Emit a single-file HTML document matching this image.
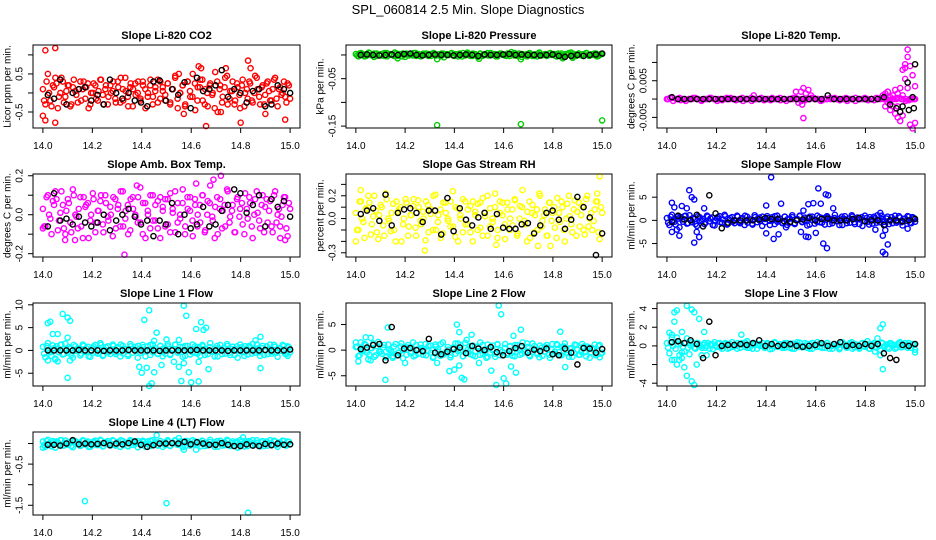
<!DOCTYPE html>
<html><head><meta charset="utf-8"><style>
body{margin:0;background:#fff}
svg{display:block;font-family:"Liberation Sans",sans-serif}
</style></head><body>
<svg id="c" width="936" height="540" xmlns="http://www.w3.org/2000/svg">
<rect width="936" height="540" fill="#fff"/>
<text x="468" y="14" text-anchor="middle" font-size="13">SPL_060814  2.5 Min. Slope Diagnostics</text>
</svg>
<script>
const xTicks=[14.0,14.2,14.4,14.6,14.8,15.0];
const xTickLabels=["14.0","14.2","14.4","14.6","14.8","15.0"];
const titles=["Slope Li-820 CO2","Slope Li-820 Pressure","Slope Li-820 Temp.","Slope Amb. Box Temp.","Slope Gas Stream RH","Slope Sample Flow","Slope Line 1 Flow","Slope Line 2 Flow","Slope Line 3 Flow","Slope Line 4 (LT) Flow"];
const yTitles=["Licor ppm per min.","kPa per min.","degrees C per min.","degrees C per min.","percent per min.","ml/min per min.","ml/min per min.","ml/min per min.","ml/min per min.","ml/min per min."];
const colors=["#ff0000","#00cc00","#ff00ff","#ff00ff","#ffff00","#0000ff","#00ffff","#00ffff","#00ffff","#00ffff"];
const yMins=[-0.92,-0.154,-0.0079,-0.217,-0.337,-7.9,-7.8,-7.0,-4.3,-1.736];
const yMaxs=[1.26,0.021,0.01475,0.209,0.391,10.0,10.4,9.2,4.6,0.28];
const yTicks=[[-0.5,0,0.5,1.0],[-0.15,-0.1,-0.05,0],[-0.005,0,0.005,0.01],[-0.2,-0.1,0,0.1,0.2],[-0.3,-0.2,-0.1,0,0.1,0.2,0.3],[-5,0,5],[-5,0,5,10],[-5,0,5],[-4,-2,0,2,4],[-1.5,-1.0,-0.5,0]];
const yTickLabels=[["-0.5","","0.5",""],["-0.15","","-0.05",""],["-0.005","","0.005",""],["-0.2","","0.0","","0.2"],["-0.3","","","0.0","","0.2",""],["-5","0","5"],["-5","0","5","10"],["-5","0","5"],["-4","","0","2","4"],["-1.5","","-0.5",""]];

const band1=[0.1,-0.3,0.5,-0.2,0.2,0.4,-0.4,0.0,0.3,-0.1,0.2,-0.35,0.15,0.05,-0.25,0.3,0.1,-0.15,0.25,-0.3,0.0,0.2,-0.2,0.35,-0.05,0.1,-0.3,0.2,0.05,-0.15,0.3,-0.25,0.1,0.4,-0.1,0.15,-0.35,0.25,0.0,-0.2,0.3,0.1,-0.1,0.2,-0.3,0.05,0.35,-0.15,0.15,-0.05,0.25,-0.25,0.1,0.45,-0.4,0.0,0.2,-0.3,0.3,-0.1,0.5,-0.45,0.15,0.35,-0.2,0.1,-0.35,0.25,0.0,0.55,-0.5,0.2,-0.1,0.4,-0.3,0.05,0.3,-0.2,0.15,-0.4,0.35,0.0,-0.15,0.25,-0.25,0.45,0.1,-0.3,0.2,-0.05,0.3,-0.2,0.1,0.4,-0.35,0.15,0.0,-0.1,0.25,-0.15];
const band2=[0.002,-0.003,0.004,0.001,-0.002,0.005,0.0,-0.004,0.003,0.001,-0.001,0.004,-0.003,0.002,0.0,0.005,-0.002,0.001,0.003,-0.004,0.002,0.0,-0.001,0.004,0.001,-0.003,0.003,0.0,0.002,-0.002,0.004,-0.001,0.001,0.003,-0.005,0.002,0.0,0.004,-0.002,0.001,0.003,-0.003,0.0,0.005,0.001,-0.002,0.002,-0.004,0.003,0.0,0.001,-0.001,0.004,0.002,-0.003,0.001,0.003,0.0,-0.002,0.002,0.006,-0.001,0.001,0.003,-0.004,0.0,0.002,0.004,-0.002,0.001,-0.003,0.003,0.0,0.002,-0.001,0.004,0.001,-0.002,0.003,0.0,-0.004,0.002,0.001,0.005,-0.003,0.0,0.003,-0.001,0.002,0.004,-0.002,0.001,0.003,-0.003,0.0,0.002];
const band3=[0,0.0003,-0.0005,0,0.0003,0,-0.0005,0,0,0.0003,0,-0.0003,0,0,0.0003,0,-0.0005,0,0,0.0003,0,0,-0.0003,0,0.0003,0,0,-0.0005,0,0,0.0003,0,0,-0.0003,0,0,0.0003,0,-0.0005,0,0,0.0003,0,0,-0.0003,0,0.0003,0,0,-0.0005,0,0,0.0003,0,0,-0.0003,0,0.0003,0,0,-0.0005,0,0,0.0003,0,0,-0.0003,0,0.0003,0,0,-0.0005,0,0,0.0003,0,0,-0.0003,0,0];
const band4=[0.03,-0.06,0.1,-0.02,0.07,0.12,-0.08,0.01,0.05,-0.1,0.08,-0.04,0.13,0.0,-0.07,0.09,-0.12,0.04,0.06,-0.03,0.11,-0.09,0.02,0.07,-0.05,0.1,-0.01,0.04,-0.11,0.08,0.03,-0.06,0.12,-0.02,0.05,-0.08,0.09,0.0,-0.04,0.14,-0.1,0.06,0.02,-0.07,0.1,-0.03,0.07,-0.12,0.04,0.08,-0.05,0.11,0.01,-0.09,0.06,-0.02,0.13,-0.06,0.03,0.09,-0.11,0.05,0.0,-0.04,0.1,-0.08,0.07,0.15,-0.03,0.04,-0.1,0.08,0.02,-0.06,0.12,-0.01,0.05,-0.09,0.09,0.03,-0.05,0.11,-0.02,0.06,-0.12,0.08,0.01,-0.07,0.1,0.04,-0.04,0.07,-0.09,0.12,0.0,-0.06,0.05,0.09,-0.11,0.03];
const band5=[0.05,-0.1,0.15,-0.03,0.09,0.2,-0.14,0.02,0.07,-0.18,0.12,-0.06,0.22,0.0,-0.11,0.13,-0.2,0.06,0.1,-0.05,0.17,-0.15,0.03,0.11,-0.08,0.16,-0.02,0.06,-0.19,0.12,0.04,-0.1,0.21,-0.03,0.08,-0.13,0.14,0.0,-0.07,0.24,-0.16,0.09,0.03,-0.12,0.15,-0.05,0.11,-0.2,0.06,0.13,-0.08,0.18,0.02,-0.15,0.09,-0.03,0.22,-0.1,0.05,0.14,-0.18,0.08,0.0,-0.06,0.16,-0.13,0.11,0.25,-0.05,0.06,-0.17,0.12,0.03,-0.1,0.2,-0.02,0.08,-0.15,0.14,0.05,-0.08,0.18,-0.03,0.1,-0.2,0.13,0.02,-0.12,0.16,0.06,-0.07,0.11,-0.14,0.2,0.0,-0.1,0.08,0.15,-0.18,0.05];
const band6=[0.5,-1.0,1.2,-0.3,0.8,-1.5,0.2,0.9,-0.7,1.1,-0.4,0.3,-1.2,0.7,0.0,-0.8,1.0,-0.2,0.6,-1.1,0.4,0.9,-0.5,1.2,-0.9,0.1,0.7,-0.6,1.0,-0.3,0.5,-1.0,0.8,0.2,-0.7,1.1,-0.4,0.6,-1.2,0.3,0.9,-0.1,0.7,-0.8,1.0,0.0,-0.5,0.8,-1.0,0.4,1.1,-0.6,0.2,0.9,-0.3,0.6,-1.1,0.8,0.1,-0.7,1.0,-0.4,0.5,-0.9,0.7,0.3,-0.6,1.2,-0.2,0.4,-1.0,0.9,0.0,-0.5,0.8,-0.8,0.6,0.2,-1.2,1.0,-0.3,0.7,-0.7,0.5,1.1,-0.4,0.3,-0.9,0.8,0.0,-0.6,1.0,-0.2,0.6,-1.1,0.4,0.9,-0.5,0.7,-0.3];
const band7=[0.8,-1.5,1.6,-0.4,1.1,-2.0,0.3,1.2,-0.9,1.5,-0.5,0.4,-1.6,0.9,0.0,-1.1,1.3,-0.3,0.8,-1.4,0.5,1.2,-0.7,1.6,-1.2,0.1,0.9,-0.8,1.3,-0.4,0.7,-1.3,1.0,0.3,-0.9,1.4,-0.5,0.8,-1.6,0.4,1.2,-0.1,0.9,-1.0,1.3,0.0,-0.7,1.0,-1.3,0.5,1.4,-0.8,0.3,1.2,-0.4,0.8,-1.4,1.0,0.1,-0.9,1.3,-0.5,0.7,-1.2,0.9,0.4,-0.8,1.6,-0.3,0.5,-1.3,1.2,0.0,-0.7,1.0,-1.0,0.8,0.3,-1.6,1.3,-0.4,0.9,-0.9,0.7,1.4,-0.5,0.4,-1.2,1.0,0.0,-0.8,1.3,-0.3,0.8,-1.4,0.5,1.2,-0.7,0.9,-0.4];
const band8=[0.6,-1.2,1.5,-0.2,1.0,-1.8,0.4,1.3,-1.0,1.6,-0.3,0.5,-1.4,1.1,-0.1,-1.2,1.2,-0.5,0.7,-1.6,0.6,1.0,-0.6,1.5,-1.0,0.2,1.1,-0.9,1.2,-0.2,0.9,-1.5,1.1,0.2,-1.1,1.5,-0.6,0.6,-1.4,0.3,1.3,-0.2,1.0,-1.2,1.4,0.1,-0.8,0.9,-1.2,0.6,1.5,-0.7,0.2,1.1,-0.5,0.9,-1.3,1.1,0.0,-1.0,1.2,-0.6,0.8,-1.1,1.0,0.3,-0.9,1.5,-0.4,0.6,-1.2,1.3,0.1,-0.8,0.9,-1.1,0.7,0.4,-1.5,1.2,-0.3,1.0,-1.0,0.6,1.3,-0.6,0.3,-1.3,1.1,0.1,-0.9,1.2,-0.4,0.7,-1.5,0.4,1.1,-0.8,1.0,-0.5];
const band9=[0.3,-0.8,1.2,-1.5,0.9,-1.0,1.5,-0.6,0.8,-0.9,0.4,-0.2,0.3,0.1,-0.2,0.3,0.0,-0.3,0.2,0.4,-0.1,0.3,-0.3,0.2,0.1,-0.2,0.4,0.0,-0.3,0.2,0.3,-0.1,0.5,-0.2,0.1,0.3,-0.3,0.2,0.0,-0.2,0.3,0.1,-0.3,0.4,-0.1,0.2,0.0,-0.2,0.3,0.1,-0.3,0.2,0.4,-0.1,0.0,0.3,-0.2,0.2,-0.3,0.1,0.4,-0.1,0.2,-0.2,0.3,0.0,-0.3,0.2,0.1,-0.2,0.4,0.0,-0.1,0.3,-0.3,0.2,0.1,-0.2,0.3,-0.1,0.5,-0.3,0.2,-0.6,0.8,-0.4,0.3,0.0,-0.2,0.3,0.1,-0.3,0.2,0.4,-0.1,0.3,-0.2,0.1,0.2,-0.4];
const band10=[0.05,-0.08,0.09,-0.02,0.06,-0.1,0.03,0.08,-0.05,0.07,-0.03,0.02,-0.09,0.06,0.0,-0.06,0.08,-0.02,0.05,-0.08,0.03,0.07,-0.04,0.09,-0.07,0.01,0.06,-0.05,0.08,-0.02,0.04,-0.08,0.06,0.02,-0.06,0.08,-0.03,0.05,-0.09,0.02,0.07,-0.01,0.05,-0.06,0.08,0.0,-0.04,0.06,-0.08,0.03,0.08,-0.05,0.01,0.07,-0.02,0.05,-0.09,0.06,0.01,-0.05,0.08,-0.03,0.04,-0.07,0.06,0.02,-0.05,0.09,-0.02,0.03,-0.08,0.07,0.0,-0.04,0.06,-0.06,0.05,0.02,-0.1,0.08,-0.02,0.06,-0.06,0.04,0.08,-0.03,0.02,-0.07,0.06,0.0,-0.05,0.08,-0.02,0.05,-0.08,0.03,0.07,-0.04,0.05,-0.02];

const bandB1=[-0.2,0.3,0.0,-0.35,0.15,0.25,-0.1,0.4,-0.25,0.05,0.2,-0.3,0.35,-0.05,0.1,-0.2,0.3,0.15,-0.4,0.0,0.25,-0.15,0.05,0.35,-0.3,0.2,-0.1,0.0,0.3,-0.25,0.15,0.4,-0.2,0.05,-0.35,0.25,0.1,-0.05,0.3,-0.15,0.2,-0.4,0.0,0.35,-0.1,0.15,-0.25,0.3,0.05,-0.2,0.25,-0.3,0.1,0.4,-0.15,0.0,0.2,-0.35,0.3,0.05,-0.1,0.25,-0.2,0.15,0.35,-0.3,0.0,0.2,-0.05,-0.4,0.3,0.1,-0.25,0.15,0.45,-0.15,0.05,-0.3,0.25,-0.05,0.2,-0.35,0.1,0.3,-0.2,0.0,0.4,-0.1,0.15,-0.3,0.25,0.05,-0.2,0.35,-0.15,0.1,-0.05,0.3,-0.25,0.2];
const bandB2=[-0.001,0.003,0.0,-0.003,0.002,0.004,-0.001,0.003,-0.002,0.001,0.002,-0.002,0.004,0.0,0.001,-0.002,0.003,0.002,-0.003,0.0,0.003,-0.001,0.001,0.004,-0.002,0.002,-0.001,0.0,0.003,-0.002,0.002,0.004,-0.001,0.001,-0.003,0.003,0.001,0.0,0.003,-0.001,0.002,-0.003,0.0,0.004,-0.001,0.002,-0.002,0.003,0.001,-0.001,0.003,-0.002,0.001,0.004,-0.001,0.0,0.002,-0.003,0.003,0.001,-0.001,0.003,-0.002,0.002,0.004,-0.002,0.0,0.002,0.0,-0.003,0.003,0.001,-0.002,0.002,0.005,-0.001,0.001,-0.002,0.003,0.0,0.002,-0.003,0.001,0.003,-0.001,0.0,0.004,-0.001,0.002,-0.002,0.003,0.001,-0.002,0.004,-0.001,0.001,0.0,0.003,-0.002,0.002];
const bandB3=[0,0.0003,0,-0.0003,0,0,0.0003,0,-0.0005,0,0.0003,0,0,-0.0003,0,0.0003,0,0,-0.0005,0,0.0003,0,0,-0.0003,0,0.0003,0,-0.0003,0,0,0.0003,0,-0.0005,0,0,0.0003,0,-0.0003,0,0,0.0003,0,0,-0.0005,0,0.0003,0,0,-0.0003,0,0.0003,0,0,-0.0003,0,0.0003,0,-0.0005,0,0];
const bandB4=[-0.06,0.09,0.0,-0.1,0.05,0.08,-0.03,0.12,-0.07,0.02,0.06,-0.09,0.1,-0.01,0.03,-0.06,0.09,0.05,-0.12,0.0,0.08,-0.04,0.02,0.1,-0.09,0.06,-0.03,0.0,0.09,-0.07,0.05,0.12,-0.06,0.02,-0.1,0.08,0.03,-0.01,0.09,-0.04,0.06,-0.12,0.0,0.1,-0.03,0.05,-0.07,0.09,0.02,-0.06,0.08,-0.09,0.03,0.12,-0.04,0.0,0.06,-0.1,0.09,0.02,-0.03,0.08,-0.06,0.05,0.1,-0.09,0.0,0.06,-0.01,-0.12,0.09,0.03,-0.07,0.05,0.13,-0.04,0.02,-0.09,0.08,-0.01,0.06,-0.1,0.03,0.09,-0.06,0.0,0.12,-0.03,0.05,-0.09,0.08,0.02,-0.06,0.1,-0.04,0.03,-0.01,0.09,-0.07,0.06];
const bandB5=[-0.1,0.15,0.0,-0.17,0.08,0.14,-0.05,0.2,-0.12,0.03,0.1,-0.15,0.17,-0.02,0.05,-0.1,0.15,0.08,-0.2,0.0,0.14,-0.07,0.03,0.17,-0.15,0.1,-0.05,0.0,0.15,-0.12,0.08,0.2,-0.1,0.03,-0.17,0.14,0.05,-0.02,0.15,-0.07,0.1,-0.2,0.0,0.17,-0.05,0.08,-0.12,0.15,0.03,-0.1,0.14,-0.15,0.05,0.2,-0.07,0.0,0.1,-0.17,0.15,0.03,-0.05,0.14,-0.1,0.08,0.17,-0.15,0.0,0.1,-0.02,-0.2,0.15,0.05,-0.12,0.08,0.22,-0.07,0.03,-0.15,0.14,-0.02,0.1,-0.17,0.05,0.15,-0.1,0.0,0.2,-0.05,0.08,-0.15,0.14,0.03,-0.1,0.17,-0.07,0.05,-0.02,0.15,-0.12,0.1];
const bandB6=[-0.5,0.8,0.0,-0.9,0.4,0.7,-0.3,1.0,-0.6,0.2,0.5,-0.8,0.9,-0.1,0.3,-0.5,0.8,0.4,-1.0,0.0,0.7,-0.4,0.2,0.9,-0.8,0.5,-0.3,0.0,0.8,-0.6,0.4,1.0,-0.5,0.2,-0.9,0.7,0.3,-0.1,0.8,-0.4,0.5,-1.0,0.0,0.9,-0.3,0.4,-0.6,0.8,0.2,-0.5,0.7,-0.8,0.3,1.0,-0.4,0.0,0.5,-0.9,0.8,0.2,-0.3,0.7,-0.5,0.4,0.9,-0.8,0.0,0.5,-0.1,-1.0,0.8,0.3,-0.6,0.4,1.1,-0.4,0.2,-0.8,0.7,-0.1,0.5,-0.9,0.3,0.8,-0.5,0.0,1.0,-0.3,0.4,-0.8,0.7,0.2,-0.5,0.9,-0.4,0.3,-0.1,0.8,-0.6,0.5];
const bandB7=[-0.7,1.0,0.0,-1.2,0.5,0.9,-0.4,1.3,-0.8,0.3,0.7,-1.0,1.2,-0.1,0.4,-0.7,1.0,0.5,-1.3,0.0,0.9,-0.5,0.3,1.2,-1.0,0.7,-0.4,0.0,1.0,-0.8,0.5,1.3,-0.7,0.3,-1.2,0.9,0.4,-0.1,1.0,-0.5,0.7,-1.3,0.0,1.2,-0.4,0.5,-0.8,1.0,0.3,-0.7,0.9,-1.0,0.4,1.3,-0.5,0.0,0.7,-1.2,1.0,0.3,-0.4,0.9,-0.7,0.5,1.2,-1.0,0.0,0.7,-0.1,-1.3,1.0,0.4,-0.8,0.5,1.4,-0.5,0.3,-1.0,0.9,-0.1,0.7,-1.2,0.4,1.0,-0.7,0.0,1.3,-0.4,0.5,-1.0,0.9,0.3,-0.7,1.2,-0.5,0.4,-0.1,1.0,-0.8,0.7];
const bandB8=[0.7,-1.0,0.0,1.2,-0.5,-0.9,0.4,-1.3,0.8,-0.3,-0.7,1.0,-1.2,0.1,-0.4,0.7,-1.0,-0.5,1.3,0.0,-0.9,0.5,-0.3,-1.2,1.0,-0.7,0.4,0.0,-1.0,0.8,-0.5,-1.3,0.7,-0.3,1.2,-0.9,-0.4,0.1,-1.0,0.5,-0.7,1.3,0.0,-1.2,0.4,-0.5,0.8,-1.0,-0.3,0.7,-0.9,1.0,-0.4,-1.3,0.5,0.0,-0.7,1.2,-1.0,-0.3,0.4,-0.9,0.7,-0.5,-1.2,1.0,0.0,-0.7,0.1,1.3,-1.0,-0.4,0.8,-0.5,-1.4,0.5,-0.3,1.0,-0.9,0.1,-0.7,1.2,-0.4,-1.0,0.7,0.0,-1.3,0.4,-0.5,1.0,-0.9,-0.3,0.7,-1.2,0.5,-0.4,0.1,-1.0,0.8,-0.7];
const bandB9=[-0.2,0.3,0.0,-0.3,0.15,0.25,-0.1,0.35,-0.2,0.05,0.2,-0.3,0.3,0.0,0.1,-0.2,0.3,0.15,-0.35,0.0,0.25,-0.15,0.05,0.3,-0.3,0.2,-0.1,0.0,0.3,-0.2,0.15,0.35,-0.2,0.05,-0.3,0.25,0.1,0.0,0.3,-0.15,0.2,-0.35,0.0,0.3,-0.1,0.15,-0.2,0.3,0.05,-0.2,0.25,-0.3,0.1,0.35,-0.15,0.0,0.2,-0.3,0.3,0.05,-0.1,0.25,-0.2,0.15,0.3,-0.3,0.0,0.2,0.0,-0.35,0.3,0.1,-0.2,0.15,0.4,-0.15,0.05,-0.3,0.25,0.0,0.2,-0.3,0.1,0.3,-0.2,0.0,0.35,-0.1,0.15,-0.3,0.25,0.05,-0.2,0.3,-0.15,0.1,0.0,0.3,-0.2,0.2];
const bandB10=[-0.04,0.06,0.0,-0.07,0.03,0.05,-0.02,0.08,-0.05,0.01,0.04,-0.06,0.07,-0.01,0.02,-0.04,0.06,0.03,-0.08,0.0,0.05,-0.03,0.01,0.07,-0.06,0.04,-0.02,0.0,0.06,-0.05,0.03,0.08,-0.04,0.01,-0.07,0.05,0.02,-0.01,0.06,-0.03,0.04,-0.08,0.0,0.07,-0.02,0.03,-0.05,0.06,0.01,-0.04,0.05,-0.06,0.02,0.08,-0.03,0.0,0.04,-0.07,0.06,0.01,-0.02,0.05,-0.04,0.03,0.07,-0.06,0.0,0.04,-0.01,-0.08,0.06,0.02,-0.05,0.03,0.09,-0.03,0.01,-0.06,0.05,-0.01,0.04,-0.07,0.02,0.06,-0.04,0.0,0.08,-0.02,0.03,-0.06,0.05,0.01,-0.04,0.07,-0.03,0.02,-0.01,0.06,-0.05,0.04];

const outX1=[14.01,14.05,14.0,14.01,14.05,14.66,14.63,14.83,14.84,14.74,14.9,14.98,14.8,14.55,14.57,14.72,14.64];
const outY1=[1.12,1.18,-0.6,-0.72,-0.78,-0.87,0.7,0.85,0.65,0.65,-0.55,-0.7,-0.78,0.5,-0.55,-0.5,0.65];
const outX2=[14.17,14.33,14.5,14.67,14.84,14.88,14.33,14.67,15.0];
const outY2=[-0.007,-0.009,-0.008,-0.009,-0.007,-0.006,-0.148,-0.146,-0.138];
const outX3=[14.52,14.53,14.54,14.55,14.55,14.56,14.57,14.58,14.35,14.545,14.87,14.88,14.88,14.89,14.89,14.9,14.9,14.91,14.91,14.92,14.92,14.93,14.93,14.94,14.94,14.95,14.95,14.96,14.96,14.97,14.97,14.98,14.98,14.99,14.99,15.0,15.0,14.96,14.97,14.985,14.93,14.95];
const outY3=[0.002,-0.001,0.002,0.003,-0.0052,0.0015,0.0025,0.001,0.001,-0.0015,0.001,-0.002,0.0015,-0.001,0.002,-0.003,0.0005,0.001,-0.002,0.0025,-0.004,0.0015,-0.005,0.003,-0.006,0.008,-0.0045,0.0095,0.0055,0.0135,0.003,0.009,-0.007,0.0065,-0.008,0.0035,-0.0065,0.0085,0.0115,0.0,-0.002,0.001];
const outX4=[14.33,14.72,14.69,14.62,14.0,14.09,14.13,14.96,14.98,14.38];
const outY4=[-0.205,0.2,0.18,0.16,-0.07,-0.13,-0.13,-0.12,-0.13,0.15];
const outX5=[14.0,14.28,14.74,14.79,14.99,14.57,14.02,14.98];
const outY5=[-0.2,-0.28,-0.24,-0.24,0.37,-0.23,0.25,0.22];
const outX6=[14.02,14.03,14.06,14.09,14.1,14.11,14.08,14.12,14.11,14.13,14.05,14.02,14.04,14.15,14.42,14.4,14.4,14.43,14.46,14.45,14.48,14.54,14.55,14.56,14.57,14.57,14.59,14.6,14.61,14.62,14.63,14.64,14.65,14.645,14.67,14.87,14.88,14.89,14.87,14.86,14.84,14.97,14.88];
const outY6=[3.8,2.8,3.1,6.5,5.0,4.5,2.6,-2.5,-4.8,-3.6,-3.3,-2.5,-2.0,2.6,9.3,3.2,-2.8,-4.0,3.6,-3.0,-1.5,-2.5,2.1,-3.5,-3.6,3.5,3.7,-2.7,6.9,3.6,-5.0,5.6,5.4,-6.0,2.6,-6.8,-7.3,-5.2,-3.3,1.6,-2.0,-1.8,-2.1];
const outX7=[14.02,14.03,14.02,14.04,14.05,14.06,14.06,14.08,14.1,14.11,14.1,14.11,14.1,14.41,14.43,14.39,14.4,14.42,14.43,14.44,14.45,14.45,14.46,14.48,14.5,14.53,14.55,14.55,14.56,14.57,14.57,14.58,14.59,14.6,14.62,14.63,14.64,14.65,14.66,14.67,14.63,14.86,14.88,14.88,14.99];
const outY7=[6.0,6.3,-2.2,3.6,-1.8,3.6,-2.4,8.0,7.2,6.5,-6.0,-2.2,2.8,6.7,8.8,-3.6,-4.9,-3.8,-7.8,-7.2,-4.8,2.1,3.9,-3.2,2.4,-2.5,2.3,-3.6,-6.7,-2.8,9.8,7.6,-4.8,-7.0,4.7,-6.8,6.2,4.5,5.0,-4.1,-2.5,2.2,3.0,-3.9,-1.2];
const outX8=[14.0,14.01,14.04,14.06,14.06,14.12,14.13,14.15,14.2,14.33,14.38,14.4,14.41,14.42,14.42,14.43,14.44,14.45,14.47,14.5,14.53,14.55,14.57,14.58,14.59,14.6,14.61,14.63,14.64,14.65,14.67,14.83,14.85,14.99];
const outY8=[1.5,-2.2,2.5,2.4,-2.0,-5.8,4.4,-1.5,-2.5,-2.5,-4.1,-3.8,5.0,3.5,-3.0,-5.4,-5.7,2.0,3.0,-2.5,-1.5,-4.0,-6.8,8.7,7.0,-5.5,-6.5,-3.2,2.8,-4.4,4.0,3.6,-3.3,-1.4];
const outX9=[14.01,14.02,14.03,14.04,14.03,14.02,14.04,14.05,14.06,14.06,14.07,14.08,14.08,14.1,14.1,14.11,14.11,14.13,14.12,14.14,14.15,14.16,14.3,14.86,14.87,14.87,14.86,15.0];
const outY9=[1.4,0.9,3.6,3.8,2.6,-1.5,-2.0,-1.5,-0.7,-1.3,-2.3,-3.2,4.3,3.9,-3.8,-4.2,3.6,2.9,-2.0,-1.0,1.5,-1.0,1.2,1.9,2.3,-2.5,-1.0,-0.7];
const outX10=[14.17,14.5,14.83,14.46,14.57,14.62,14.55,14.81,14.0];
const outY10=[-1.4,-1.45,-1.68,0.2,-0.15,-0.15,0.13,0.15,-0.1];

const blk1=[-0.05,-0.15,0.35,-0.3,0.0,0.1,0.15,-0.2,-0.05,-0.3,0.35,0.0,-0.15,0.0,-0.2,-0.25,-0.35,0.3,0.33,-0.2,0.1,-0.05,0.28,-0.4,0.4,0.05,0.1,0.2,0.6,-0.1,0.1,0.0,-0.25,0.05,0.1,-0.35,-0.3,0.2,0.1,0.0];
const blk2=[0,0.001,0,-0.001,0,0.001,0,0.002,0.003,0,-0.001,0,0.001,0,0,-0.001,0,0.001,0,-0.002,0.001,0,0,0.001,0.002,0,0.001,0,0,-0.001,0,0.001,-0.002,-0.004,-0.002,0,-0.002,0,0.001,0.003];
const blk3=[0.0005,0,0,0,0,0,0,0,0,0,0,0,0,0,0,0,0,0,0,0,0,0,0,0,0,0.001,0,0,0,0,0,0,0,0,0.0005,-0.0015,-0.0025,-0.002,-0.003,0.0095];
const blk4=[-0.06,0.11,-0.03,-0.02,-0.05,-0.01,-0.04,-0.06,-0.04,0.0,-0.08,-0.03,0.0,0.03,-0.01,-0.05,-0.03,-0.11,-0.03,-0.05,0.06,-0.1,0.0,-0.07,-0.05,0.04,-0.06,-0.05,0.02,0.05,0.13,0.11,0.01,0.05,0.1,-0.06,0.08,0.04,0.07,-0.01];
const blk5=[0.04,0.07,0.09,-0.02,0.21,-0.06,0.05,0.08,0.09,0.05,-0.03,0.07,0.07,-0.14,0.18,-0.11,0.09,-0.01,-0.06,0.01,0.05,-0.09,0.04,-0.08,-0.09,-0.09,-0.05,-0.04,-0.13,-0.06,0.05,0.07,-0.01,-0.09,-0.01,0.19,0.1,0.01,-0.32,-0.13];
const blk6=[-0.3,1.0,0.2,0.0,1.2,-1.3,5.4,1.5,-1.7,-0.5,0.0,0.0,0.0,0.0,0.2,0.5,0.3,0.3,-0.2,-0.3,0.0,0.2,0.5,0.0,0.3,0.4,0.0,0.0,0.0,0.3,0.5,-0.2,0.0,0.0,-1.0,0.0,0.0,-0.2,0.0,0.3];
const blk7=[0,0,0,0,0,0.1,0,0,0,-0.1,0,0,0,0.1,0,0,0,0,-0.1,0,0,0,0,0,0.1,0,0,0,0,-0.1,0,0,0,0,0,0.1,0,0,0,0.2];
const blk8=[0.2,0.5,1.0,1.2,-2.0,4.5,-1.0,0.3,0.4,0.0,-0.2,2.2,-0.5,-0.8,-0.3,0.2,0.5,-0.6,0.8,0.3,0.0,0.6,-0.4,-1.0,-0.2,0.4,0.8,-0.5,0.1,-0.2,0.3,-0.8,-1.0,0.3,-0.5,-2.8,0.4,0.3,-0.5,0.2];
const blk9=[0.4,0.5,0.3,0.6,0.2,-1.3,2.6,-1.0,0.0,0.1,0.1,0.2,0.1,0.3,0.6,0.0,0.2,0.0,0.1,0.2,0.0,-0.1,0.0,0.1,0.3,0.0,0.2,0.4,0.0,0.1,0.0,0.2,0.0,0.2,-0.8,-1.3,-1.5,0.1,0.0,0.2];
const blk10=[-0.03,-0.03,-0.05,0.0,0.08,-0.02,0.0,-0.02,-0.01,0.01,-0.04,0.0,-0.02,0.01,0.05,-0.03,-0.08,-0.04,0.0,0.0,0.01,0.0,0.04,-0.02,0.03,0.0,-0.03,-0.03,0.01,-0.03,-0.06,-0.06,-0.02,-0.05,-0.06,-0.01,-0.04,0.0,-0.03,-0.02];
const blkOutX3=[14.94,14.97,14.99,14.995];
const blkOutY3=[-0.0035,0.0045,0.0005,-0.0025];

const bands=[band1,band2,band3,band4,band5,band6,band7,band8,band9,band10];
const bandsB=[bandB1,bandB2,bandB3,bandB4,bandB5,bandB6,bandB7,bandB8,bandB9,bandB10];
const outXs=[outX1,outX2,outX3,outX4,outX5,outX6,outX7,outX8,outX9,outX10];
const outYs=[outY1,outY2,outY3,outY4,outY5,outY6,outY7,outY8,outY9,outY10];
const blks=[blk1,blk2,blk3,blk4,blk5,blk6,blk7,blk8,blk9,blk10];

const NS="http://www.w3.org/2000/svg";
const svg=document.getElementById('c');
const colL=[33,346,657], colR=[300,612,925], rowT=[45,174,303,432], boxH=83;
const XMIN=13.96, XMAX=15.04;
function mk(tag,attrs,parent){const e=document.createElementNS(NS,tag);for(const k in attrs)e.setAttribute(k,attrs[k]);(parent||svg).appendChild(e);return e;}

for(let p=0;p<10;p++){
  const c=p%3, r=Math.floor(p/3);
  const L=colL[c], R=colR[c], T=rowT[r], B=T+boxH;
  const g=mk('g',{});
  
  
  const xs=v=>L+(v-XMIN)/(XMAX-XMIN)*(R-L);
  const ys=v=>B-(v-yMins[p])/(yMaxs[p]-yMins[p])*(B-T);
  const t=mk('text',{x:(L+R)/2,y:T-6,'text-anchor':'middle','font-size':11,'font-weight':'bold'},g);
  t.textContent=titles[p];
  
  
  const yt=mk('text',{transform:`translate(${L-25},${(T+B)/2}) rotate(-90)`,'text-anchor':'middle','dominant-baseline':'central','font-size':10},g);
  yt.textContent=yTitles[p];
  
  
  xTicks.forEach((v,i)=>{
    const x=xs(v);
    mk('line',{x1:x,x2:x,y1:B,y2:B+5,stroke:'#000'},g);
    const tl=mk('text',{x:x,y:B+21,'text-anchor':'middle','font-size':10},g);
    tl.textContent=xTickLabels[i];
    
    
  });
  yTicks[p].forEach((v,i)=>{
    const y=ys(v);
    if(y<T-1||y>B+1)return;
    mk('line',{x1:L-5,x2:L,y1:y,y2:y,stroke:'#000'},g);
    if(yTickLabels[p][i]){
      const tl=mk('text',{transform:`translate(${L-13},${y}) rotate(-90)`,'text-anchor':'middle','dominant-baseline':'central','font-size':10},g);
      tl.textContent=yTickLabels[p][i];
      
      
    }
  });
  const cg=mk('g',{fill:'none',stroke:colors[p],'stroke-width':1.4},g);
  
  
  const bd=bands[p], n=bd.length;
  bd.forEach((v,i)=>{
    const pt=mk('circle',{cx:xs(14+i/(n-1)),cy:ys(v),r:2.6},cg);
    
    
  });
  const bb=bandsB[p], nb=bb.length;
  bb.forEach((v,i)=>{
    const pt=mk('circle',{cx:xs(14.005+i*0.99/(nb-1)),cy:ys(v),r:2.6},cg);
    
    
  });
  outXs[p].forEach((xv,i)=>{
    const pt=mk('circle',{cx:xs(xv),cy:ys(outYs[p][i]),r:2.6},cg);
    
    
  });
  const kg=mk('g',{fill:'none',stroke:'#000','stroke-width':1.4},g);
  
  
  const bk=blks[p], m=bk.length;
  bk.forEach((v,i)=>{
    const pt=mk('circle',{cx:xs(14.02+i*0.98/(m-1)),cy:ys(v),r:2.6},kg);
    
    
  });
  if(p===2){blkOutX3.forEach((xv,i)=>{
    const pt=mk('circle',{cx:xs(xv),cy:ys(blkOutY3[i]),r:2.6},kg);
    
    
  });}
  const box=mk('rect',{x:L,y:T,width:R-L,height:boxH,fill:'none',stroke:'#000','stroke-width':1},g);
  
  
}
</script>
</body></html>
